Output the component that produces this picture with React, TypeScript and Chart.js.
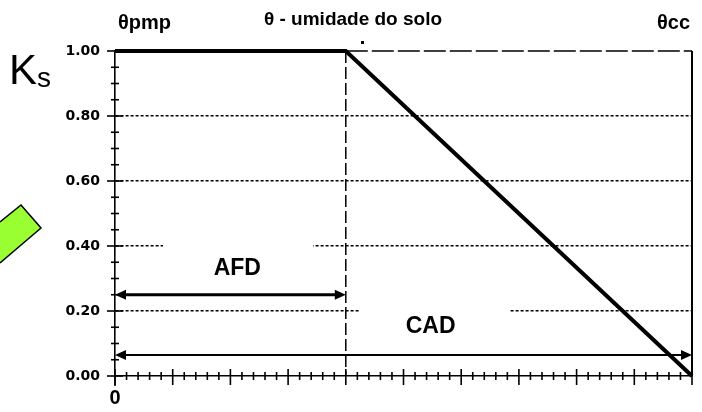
import React, { useEffect, useRef } from "react";
import { Chart, registerables } from "chart.js";

Chart.register(...registerables);

// ---- data ----
const thetaPoints = [0, 0.4, 1];
const ksValues = [1, 1, 0];
const breakTheta = 0.4;
const yTickStep = 0.2;
const yMinorStep = 0.05;
const xMajorStep = 0.1;
const xMinorStep = 0.02;
const xTickLabels = ["0"];

const arrowLabels = ["AFD", "CAD"];
const arrowStarts = [0, 0];
const arrowEnds = [0.4, 1];
const arrowLevels = [0.25, 0.065];
const labelThetas = [0.212, 0.547];
const labelKs = [0.33, 0.152];

const headerLeft = "θpmp";
const headerTitle = "θ - umidade do solo";
const headerRight = "θcc";

const FONT = "'Liberation Sans', Arial, sans-serif";

const decorPlugin = {
  id: "decor",
  beforeDatasetsDraw(chart: any) {
    const { ctx, chartArea } = chart;
    const xs = chart.scales.x;
    const ys = chart.scales.y;
    ctx.save();
    // white text-box backgrounds that interrupt the gridlines
    ctx.fillStyle = "#fff";
    ctx.fillRect(163, 236, 150, 44);
    ctx.fillRect(359, 300, 150, 44);

    // top border (dashed) and right border (solid)
    ctx.strokeStyle = "#000";
    ctx.lineWidth = 1.6;
    ctx.setLineDash([22, 4]);
    ctx.beginPath();
    ctx.moveTo(xs.getPixelForValue(breakTheta), chartArea.top);
    ctx.lineTo(chartArea.right, chartArea.top);
    ctx.stroke();
    ctx.setLineDash([]);
    ctx.lineWidth = 2;
    ctx.beginPath();
    ctx.moveTo(chartArea.right, chartArea.top);
    ctx.lineTo(chartArea.right, chartArea.bottom);
    ctx.stroke();

    // left axis extension below x axis
    ctx.lineWidth = 1.5;
    ctx.beginPath();
    ctx.moveTo(chartArea.left, chartArea.bottom);
    ctx.lineTo(chartArea.left, chartArea.bottom + 10);
    ctx.stroke();

    // y ticks
    const nY = Math.round(1 / yMinorStep);
    for (let i = 0; i <= nY; i++) {
      const v = i * yMinorStep;
      const py = ys.getPixelForValue(v);
      const major = i % Math.round(yTickStep / yMinorStep) === 0;
      ctx.lineWidth = 1.6;
      ctx.beginPath();
      if (major) {
        ctx.moveTo(chartArea.left - 8, py);
        ctx.lineTo(chartArea.left + 8, py);
      } else {
        ctx.moveTo(chartArea.left - 4, py);
        ctx.lineTo(chartArea.left + 4, py);
      }
      ctx.stroke();
    }
    // x ticks
    const nX = Math.round(1 / xMinorStep);
    for (let i = 0; i <= nX; i++) {
      const v = i * xMinorStep;
      const px = xs.getPixelForValue(v);
      const major = i % Math.round(xMajorStep / xMinorStep) === 0;
      ctx.lineWidth = 1.6;
      ctx.beginPath();
      if (major) {
        ctx.moveTo(px, chartArea.bottom - 7);
        ctx.lineTo(px, chartArea.bottom + 9);
      } else {
        ctx.moveTo(px, chartArea.bottom - 4);
        ctx.lineTo(px, chartArea.bottom + 4);
      }
      ctx.stroke();
    }
    ctx.restore();
  },
  afterDatasetsDraw(chart: any) {
    const { ctx } = chart;
    const xs = chart.scales.x;
    const ys = chart.scales.y;
    ctx.save();
    ctx.fillStyle = "#000";
    ctx.strokeStyle = "#000";

    // arrows
    arrowLabels.forEach((label, i) => {
      const x1 = xs.getPixelForValue(arrowStarts[i]);
      const x2 = xs.getPixelForValue(arrowEnds[i]);
      const y = ys.getPixelForValue(arrowLevels[i]);
      const lw = i === 0 ? 3 : 2;
      const hl = 11;
      const hw = 5;
      ctx.lineWidth = lw;
      ctx.beginPath();
      ctx.moveTo(x1 + hl - 1, y);
      ctx.lineTo(x2 - hl + 1, y);
      ctx.stroke();
      ctx.beginPath();
      ctx.moveTo(x1, y);
      ctx.lineTo(x1 + hl, y - hw);
      ctx.lineTo(x1 + hl, y + hw);
      ctx.closePath();
      ctx.fill();
      ctx.beginPath();
      ctx.moveTo(x2, y);
      ctx.lineTo(x2 - hl, y - hw);
      ctx.lineTo(x2 - hl, y + hw);
      ctx.closePath();
      ctx.fill();

      ctx.font = `bold 23px ${FONT}`;
      ctx.textAlign = "center";
      ctx.textBaseline = "middle";
      ctx.fillText(label, xs.getPixelForValue(labelThetas[i]), ys.getPixelForValue(labelKs[i]));
    });

    // headers
    ctx.textBaseline = "alphabetic";
    ctx.font = `bold 20px ${FONT}`;
    ctx.textAlign = "left";
    ctx.fillText(headerLeft, 118, 29);
    ctx.textAlign = "right";
    ctx.fillText(headerRight, 690, 29);
    ctx.font = `bold 19px ${FONT}`;
    ctx.textAlign = "center";
    ctx.fillText(headerTitle, 353, 25);

    // Ks
    ctx.textAlign = "left";
    ctx.font = `42px ${FONT}`;
    ctx.fillText("K", 9, 84);
    ctx.font = `28px ${FONT}`;
    ctx.fillText("s", 37, 87);

    // small mark
    ctx.fillRect(361, 41, 3, 3);

    // green shape
    ctx.beginPath();
    ctx.moveTo(0, 222);
    ctx.lineTo(21, 205);
    ctx.lineTo(41, 228);
    ctx.lineTo(0, 263);
    ctx.fillStyle = "#99FF33";
    ctx.fill();
    ctx.lineWidth = 1.5;
    ctx.strokeStyle = "#000";
    ctx.beginPath();
    ctx.moveTo(0, 222);
    ctx.lineTo(21, 205);
    ctx.lineTo(41, 228);
    ctx.lineTo(0, 263);
    ctx.stroke();
    ctx.restore();
  },
};

export default function App() {
  const ref = useRef<HTMLCanvasElement | null>(null);
  useEffect(() => {
    if (!ref.current) return;
    const chart = new Chart(ref.current, {
      type: "line",
      data: {
        datasets: [
          {
            data: thetaPoints.map((x, i) => ({ x, y: ksValues[i] })),
            borderColor: "#000",
            borderWidth: 4,
            pointRadius: 0,
            tension: 0,
            clip: 10,
          },
          {
            data: [
              { x: breakTheta, y: 1 },
              { x: breakTheta, y: 0 },
            ],
            borderColor: "#000",
            borderWidth: 1.5,
            borderDash: [12, 4],
            pointRadius: 0,
            clip: 10,
          },
        ],
      },
      options: {
        animation: false,
        responsive: false,
        layout: { padding: { top: 51, right: 7, left: 0, bottom: 0 } },
        plugins: { legend: { display: false }, tooltip: { enabled: false } },
        scales: {
          x: {
            type: "linear",
            min: 0,
            max: 1,
            afterFit: (s: any) => {
              s.height = 36;
            },
            grid: { display: false, drawTicks: false },
            border: { display: true, color: "#000", width: 1.6 },
            ticks: {
              stepSize: xMajorStep,
              autoSkip: false,
              maxRotation: 0,
              callback: (v: any) => (Number(v) === 0 ? xTickLabels[0] : ""),
              font: { family: FONT, weight: "bold", size: 20 },
              color: "#000",
              padding: 10,
            },
          },
          y: {
            min: 0,
            max: 1,
            afterFit: (s: any) => {
              s.width = 115;
            },
            grid: {
              drawTicks: false,
              lineWidth: 1.5,
              color: (c: any) =>
                c.tick && (c.tick.value === 0 || c.tick.value === 1) ? "rgba(0,0,0,0)" : "#000",
            },
            border: { display: true, color: "#000", width: 1.6, dash: [3, 2] },
            ticks: {
              stepSize: yTickStep,
              callback: (v: any) => Number(v).toFixed(2),
              font: { family: "'DejaVu Sans', sans-serif", weight: "bold", size: 14 },
              color: "#000",
              padding: 15,
            },
          },
        },
      },
      plugins: [decorPlugin],
    });
    return () => chart.destroy();
  }, []);
  return (
    <div style={{ position: "absolute", left: 0, top: 0, width: 702, height: 412, background: "#fff" }}>
      <canvas ref={ref} width={702} height={412} style={{ width: 702, height: 412 }} />
    </div>
  );
}
